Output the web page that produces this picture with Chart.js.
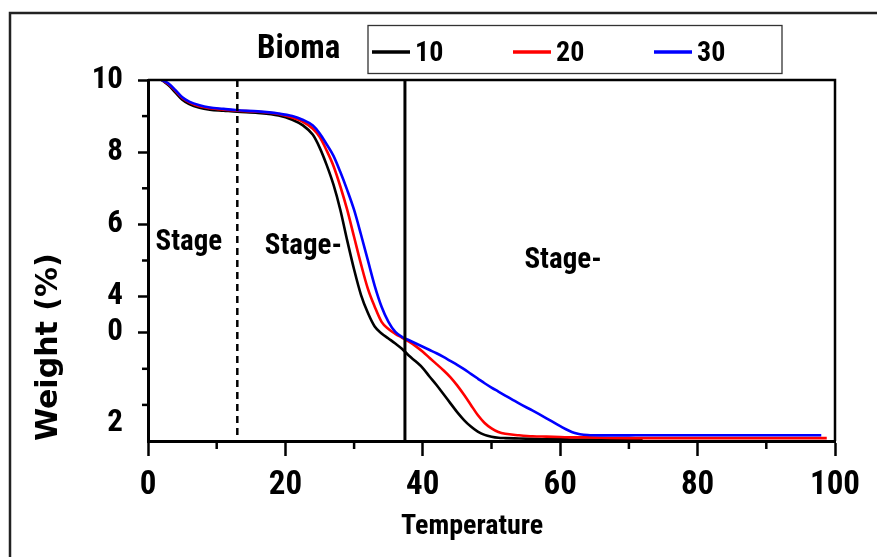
<!DOCTYPE html>
<html><head><meta charset="utf-8">
<script src="https://cdn.jsdelivr.net/npm/chart.js@4.4.1/dist/chart.umd.min.js"></script>
<style>html,body{margin:0;padding:0;background:#fff;} canvas{display:block;}</style>
</head><body>
<canvas id="c" width="877" height="557"></canvas>
<script>
// ---- data ----
const temperature = [2, 3, 4, 5, 6, 7.5, 9, 11, 13, 16, 19, 21, 22.5, 24, 25, 26, 27, 28, 29, 30, 31, 32, 33, 34, 35, 36, 37, 38, 39, 40, 41, 42, 43, 44, 45, 46, 47, 48, 49, 50, 51, 52, 54, 56, 58, 60, 62, 64, 66, 70, 72, 80, 90, 98, 98.8];
const weight10 = [10.0, 9.85, 9.65, 9.45, 9.33, 9.23, 9.18, 9.15, 9.12, 9.09, 9.02, 8.9, 8.75, 8.48, 8.12, 7.65, 7.1, 6.4, 5.55, 4.75, 4.05, 3.55, 3.17, 2.98, 2.84, 2.7, 2.55, 2.36, 2.2, 2.02, 1.78, 1.55, 1.3, 1.05, 0.8, 0.58, 0.4, 0.26, 0.17, 0.12, 0.09, 0.08, 0.07, 0.06, 0.05, 0.05, 0.04, 0.04, 0.04, 0.03, 0.03, null, null, null, null];
const weight20 = [10.0, 9.88, 9.7, 9.5, 9.38, 9.27, 9.22, 9.18, 9.15, 9.12, 9.06, 8.96, 8.85, 8.65, 8.42, 8.05, 7.62, 7.05, 6.4, 5.65, 4.9, 4.22, 3.72, 3.3, 3.1, 2.97, 2.86, 2.75, 2.62, 2.47, 2.3, 2.13, 1.96, 1.77, 1.54, 1.28, 1.0, 0.72, 0.5, 0.35, 0.25, 0.2, 0.16, 0.13, 0.12, 0.11, 0.1, 0.1, 0.09, 0.08, 0.08, 0.08, 0.08, 0.08, 0.08];
const weight30 = [10.0, 9.9, 9.72, 9.52, 9.4, 9.3, 9.24, 9.2, 9.16, 9.13, 9.07, 9.0, 8.9, 8.74, 8.52, 8.22, 7.9, 7.45, 6.95, 6.4, 5.72, 5.01, 4.3, 3.72, 3.3, 3.02, 2.88, 2.79, 2.7, 2.61, 2.52, 2.43, 2.33, 2.22, 2.11, 1.99, 1.86, 1.73, 1.6, 1.48, 1.37, 1.26, 1.04, 0.84, 0.63, 0.41, 0.23, 0.165, 0.155, 0.155, 0.16, 0.16, 0.16, 0.16, null];
const seriesNames = ['10', '20', '30'];
const seriesColors = ['#000000', '#ff0000', '#0000ff'];
const legendTitle = 'Bioma';
const xTickValues = [0, 20, 40, 60, 80, 100];
const xMinorTicks = [10, 30, 50, 70, 90];
const yTickLabels = {10: '10', 8: '8', 6: '6', 4: '4', 3: '0', 1: ['', '2']};
const yMinorTicks = [9, 7, 5, 2, 1];
const stageBoundaries = [13, 37.4];
const stageNames = ['Stage', 'Stage-', 'Stage-'];
const xTitle = 'Temperature      ';
const yTitle = 'Weight (%)';

const NARROW = "Roboto, 'Liberation Sans', sans-serif";
const CW = 'condensed bold';

const mkData = arr => temperature.map((t, i) => ({x: t, y: arr[i]}));

const decor = {
  id: 'decor',
  beforeDraw(chart) {
    const ctx = chart.ctx;
    ctx.save();
    ctx.fillStyle = '#fff';
    ctx.fillRect(0, 0, chart.width, chart.height);
    ctx.strokeStyle = '#222';
    ctx.lineWidth = 2.5;
    ctx.beginPath();
    ctx.moveTo(10, 557); ctx.lineTo(10, 13); ctx.lineTo(877, 13);
    ctx.stroke();
    ctx.restore();
  },
  afterDatasetsDraw(chart) {
    const {ctx, chartArea: a, scales: {x, y}} = chart;
    ctx.save();
    ctx.strokeStyle = '#000';
    ctx.lineWidth = 2.5;
    ctx.setLineDash([7, 5]);
    let px = x.getPixelForValue(stageBoundaries[0]);
    ctx.beginPath(); ctx.moveTo(px, a.top); ctx.lineTo(px, a.bottom); ctx.stroke();
    ctx.setLineDash([]);
    ctx.lineWidth = 3;
    px = x.getPixelForValue(stageBoundaries[1]);
    ctx.beginPath(); ctx.moveTo(px, a.top); ctx.lineTo(px, a.bottom); ctx.stroke();
    ctx.lineWidth = 2.5;
    ctx.beginPath();
    ctx.moveTo(a.left, a.top); ctx.lineTo(a.right, a.top); ctx.lineTo(a.right, a.bottom);
    ctx.stroke();
    xMinorTicks.forEach(v => {
      const p = x.getPixelForValue(v);
      ctx.beginPath(); ctx.moveTo(p, a.bottom); ctx.lineTo(p, a.bottom + 8); ctx.stroke();
    });
    yMinorTicks.forEach(v => {
      const p = y.getPixelForValue(v);
      ctx.beginPath(); ctx.moveTo(a.left - 6, p); ctx.lineTo(a.left, p); ctx.stroke();
    });
    ctx.fillStyle = '#000';
    ctx.font = CW + " 29px " + NARROW;
    ctx.textBaseline = 'middle';
    ctx.textAlign = 'left';
    const stagePos = [[1.1, 5.48], [17.0, 5.37], [54.8, 4.99]];
    stageNames.forEach((s, i) => {
      ctx.fillText(s, x.getPixelForValue(stagePos[i][0]), y.getPixelForValue(stagePos[i][1]));
    });
    ctx.font = CW + " 33px " + NARROW;
    ctx.fillText(legendTitle, 257, 50);
    ctx.strokeStyle = '#333';
    ctx.lineWidth = 1.3;
    ctx.strokeRect(368, 25.5, 414, 48);
    ctx.font = CW + " 28px " + NARROW;
    chart.data.datasets.forEach((ds, i) => {
      const lx = 372 + i * 141;
      ctx.strokeStyle = ds.borderColor;
      ctx.lineWidth = 3.5;
      ctx.beginPath(); ctx.moveTo(lx, 52); ctx.lineTo(lx + 38, 52); ctx.stroke();
      ctx.fillStyle = '#000';
      ctx.fillText(ds.label, lx + 43, 54);
    });
    ctx.restore();
  }
};

new Chart(document.getElementById('c'), {
  type: 'line',
  data: {
    datasets: seriesNames.map((n, i) => ({
      label: n,
      data: mkData([weight10, weight20, weight30][i]),
      borderColor: seriesColors[i],
      backgroundColor: seriesColors[i],
      borderWidth: 2.6,
      pointRadius: 0,
      cubicInterpolationMode: 'monotone',
      fill: false,
      order: 2 - i
    }))
  },
  options: {
    responsive: false,
    devicePixelRatio: 1,
    animation: false,
    layout: {padding: {left: 0, top: 80, right: 42, bottom: 0}},
    plugins: {legend: {display: false}, tooltip: {enabled: false}},
    scales: {
      x: {
        type: 'linear', min: 0, max: 100,
        afterBuildTicks: s => { s.ticks = xTickValues.map(v => ({value: v})); },
        afterFit: s => { s.height = 116; },
        border: {display: true, color: '#000', width: 3},
        grid: {drawOnChartArea: false, drawTicks: true, tickLength: 15, tickWidth: 2.5, tickColor: '#000'},
        ticks: {color: '#000', padding: 10, maxRotation: 0, autoSkip: false, font: {family: NARROW, size: 33, weight: CW}},
        title: {display: true, text: xTitle, color: '#000', padding: {top: 0, bottom: 13}, font: {family: NARROW, size: 28, weight: CW}}
      },
      y: {
        type: 'linear', min: 0, max: 10,
        afterBuildTicks: s => { s.ticks = Object.keys(yTickLabels).map(Number).sort((a, b) => b - a).map(v => ({value: v})); },
        afterFit: s => { s.width = 148; },
        border: {display: true, color: '#000', width: 3},
        grid: {drawOnChartArea: false, drawTicks: true, tickLength: 10, tickWidth: 2.5,
               tickColor: c => (c.tick && c.tick.value === 1) ? 'rgba(0,0,0,0)' : '#000'},
        ticks: {color: '#000', padding: 15, autoSkip: false, callback: v => yTickLabels[v] !== undefined ? yTickLabels[v] : '',
                font: {family: NARROW, size: 31, weight: CW}},
        title: {display: true, text: yTitle, align: 'start', color: '#000', padding: {top: 31, bottom: 0},
                font: {family: "'DejaVu Sans', sans-serif", size: 30, weight: 'bold'}}
      }
    }
  },
  plugins: [decor]
});
</script>
</body></html>
